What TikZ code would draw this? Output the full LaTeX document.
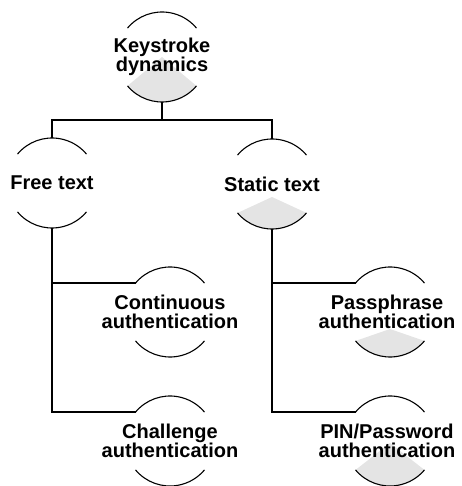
\documentclass[tikz,border=0pt]{standalone}
\usepackage{fontspec}
\setmainfont{Liberation Sans}
\definecolor{wedgegrey}{HTML}{E4E4E4}
\tikzset{
  x=1pt, y=1pt,
  concept/.style={circle, draw=none, minimum size=90pt, inner sep=0pt, outer sep=0pt},
  lbl/.style={align=center, inner sep=0pt, font=\bfseries\fontsize{20}{19.5}\selectfont},
  arcline/.style={line width=1.1pt},
  conn/.style={line width=1.6pt},
  wedge/.style={fill=wedgegrey, draw=none}
}
\newcommand{\conceptarcs}[1]{%
  \draw[arcline] (#1.140) arc[start angle=140, end angle=40, radius=45pt];
  \draw[arcline] (#1.220) arc[start angle=220, end angle=320, radius=45pt];}
\newcommand{\conceptwedge}[2]{%
  \fill[wedge] ([yshift=-#2]#1.center) -- (#1.220) arc[start angle=220, end angle=320, radius=45pt] -- cycle;}
\begin{document}
\begin{tikzpicture}
\useasboundingbox (0,0) rectangle (461,486);
% concept circles (invisible, for anchors)
\node[concept] (root) at (162,429) {};
\node[concept] (free) at (52,303) {};
\node[concept] (static) at (272,302) {};
\node[concept] (cont) at (170,174) {};
\node[concept] (pass) at (390,174) {};
\node[concept] (chal) at (170,45) {};
\node[concept] (pin) at (390,45) {};
% wedges
\conceptwedge{root}{0pt}
\conceptwedge{static}{13pt}
\conceptwedge{pass}{17pt}
\conceptwedge{pin}{2pt}
% arcs
\conceptarcs{root}
\conceptarcs{free}
\conceptarcs{static}
\conceptarcs{cont}
\conceptarcs{pass}
\conceptarcs{chal}
\conceptarcs{pin}
% labels
\node[lbl] (rootl) at (root.center) {Keystroke\\dynamics};
\node[lbl] (freel) at (free.center) {Free text};
\node[lbl] (staticl) at (static.center) {Static text};
\node[lbl] (contl) at (cont.center) {Continuous\\authentication};
\node[lbl] (passl) at ([xshift=-3pt]pass.center) {Passphrase\\authentication};
\node[lbl] (chall) at (chal.center) {Challenge\\authentication};
\node[lbl] (pinl) at ([xshift=-3pt]pin.center) {PIN/Password\\authentication};
% connectors
\draw[conn] (free.north) -- ++(0,18) coordinate (bus) -| (static.north);
\draw[conn] (root.south) -- (root.south |- bus);
\draw[conn] (free.south) |- (chal.140);
\draw[conn] (free.south |- cont.140) -- (cont.140);
\draw[conn] (static.south) |- (pin.140);
\draw[conn] (static.south |- pass.140) -- (pass.140);
\end{tikzpicture}
\end{document}
